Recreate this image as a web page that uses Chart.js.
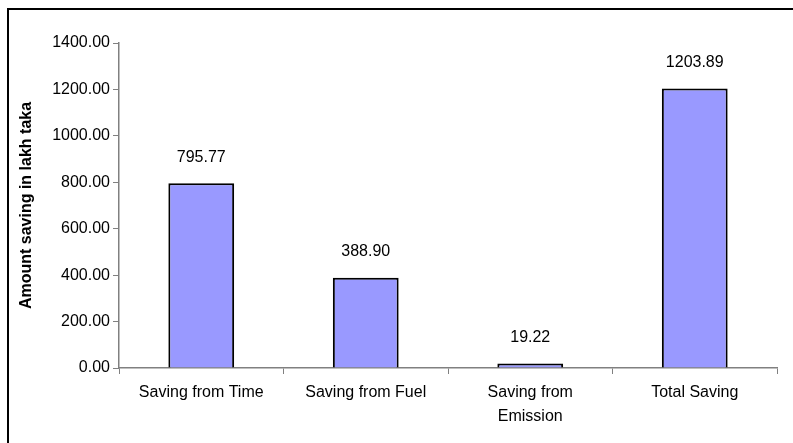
<!DOCTYPE html>
<html>
<head>
<meta charset="utf-8">
<script src="https://cdn.jsdelivr.net/npm/chart.js@4"></script>
<style>
  html, body { margin: 0; padding: 0; background: #fff; }
  #wrap { position: relative; width: 793px; height: 443px; }
  #frame { position: absolute; left: 7px; top: 8px; right: 0; bottom: 0;
           border-top: 2px solid #000; border-left: 2px solid #000; pointer-events: none; }
</style>
</head>
<body>
<div id="wrap">
  <canvas id="chart" width="793" height="443"></canvas>
  <div id="frame"></div>
</div>
<script>
// --- Données ---
const categories = [
    "Saving from Time",
    "Saving from Fuel",
    ["Saving from", "Emission"],
    "Total Saving"
];
const savings = [795.77, 388.90, 19.22, 1203.89];
const yTicks = [0, 200, 400, 600, 800, 1000, 1200, 1400];

const FONT = "'Liberation Sans', Arial, sans-serif";

// étiquettes au-dessus des barres
const valueLabels = {
    id: "valueLabels",
    afterDatasetsDraw(chart) {
        const ctx = chart.ctx;
        const meta = chart.getDatasetMeta(0);
        ctx.save();
        ctx.font = "16px " + FONT;
        ctx.fillStyle = "#000";
        ctx.textAlign = "center";
        ctx.textBaseline = "middle";
        meta.data.forEach((bar, i) => {
            ctx.fillText(savings[i].toFixed(2), bar.x, bar.y - 26);
        });
        ctx.restore();
    }
};

const ctx = document.getElementById("chart").getContext("2d");
new Chart(ctx, {
    type: "bar",
    data: {
        labels: categories,
        datasets: [{
            data: savings,
            backgroundColor: "#9999FF",
            borderColor: "#000",
            borderWidth: 2,
            barPercentage: 0.4,
            categoryPercentage: 1
        }]
    },
    options: {
        responsive: false,
        animation: false,
        layout: { padding: { left: 0, right: 16, top: 43, bottom: 0 } },
        plugins: { legend: { display: false }, tooltip: { enabled: false } },
        scales: {
            x: {
                grid: { offset: true, drawOnChartArea: false, color: "#808080", tickLength: 6 },
                border: { color: "#808080", width: 1.5 },
                ticks: { color: "#000", font: { family: FONT, size: 16, lineHeight: 1.5 }, padding: 7, maxRotation: 0 },
                afterFit: s => { s.height = 75; }
            },
            y: {
                min: 0,
                max: 1400,
                afterBuildTicks: s => { s.ticks = yTicks.map(v => ({ value: v })); },
                grid: { drawOnChartArea: false, color: "#808080", tickLength: 6 },
                border: { color: "#808080", width: 1.5 },
                ticks: {
                    color: "#000",
                    font: { family: FONT, size: 16 },
                    padding: 3,
                    callback: v => Number(v).toFixed(2)
                },
                title: {
                    display: true,
                    text: "Amount saving in lakh taka",
                    color: "#000",
                    font: { family: FONT, size: 16, weight: "bold" },
                    padding: { top: 17, bottom: 0 }
                },
                afterFit: s => { s.width = 119; }
            }
        }
    },
    plugins: [valueLabels]
});
</script>
</body>
</html>
